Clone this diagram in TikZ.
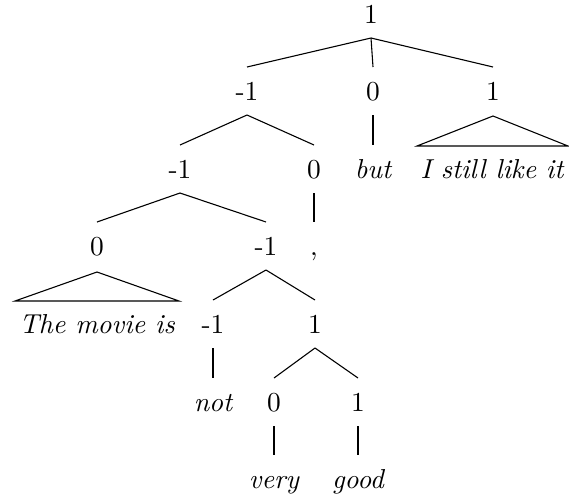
\documentclass[tikz,border=0pt]{standalone}
\usetikzlibrary{calc}
\begin{document}
\begin{tikzpicture}[x=0.365pt,y=-0.365pt,
  lbl/.style={inner sep=0pt,anchor=base},
  wd/.style={inner sep=0pt,anchor=base,font=\itshape},
  edge/.style={line width=0.4pt}]
\useasboundingbox (0,0) rectangle (569,494);
% level 0
\node[lbl] (r) at (371,23) {1};
% level 1
\node[lbl] (a) at (247,100) {-1};
\node[lbl] (b) at (373,100) {0};
\node[lbl] (c) at (493,100) {1};
% level 2
\node[lbl] (aa) at (180,178) {-1};
\node[lbl] (ab) at (314,178) {0};
\node[wd] (bw) at (373,178) {but};
\node[wd] (cw) at (492,178) {I still like it};
% level 3
\node[lbl] (aaa) at (97,255) {0};
\node[lbl] (aab) at (266,255) {-1};
\node[lbl] (abw) at (314,255) {,};
% level 4
\node[wd] (aaaw) at (97,333) {The movie is};
\node[lbl] (aaba) at (213,333) {-1};
\node[lbl] (aabb) at (315,333) {1};
% level 5
\node[wd] (aabaw) at (213,411) {not};
\node[lbl] (aabba) at (274,411) {0};
\node[lbl] (aabbb) at (358,411) {1};
% level 6
\node[wd] (aabbaw) at (274,488) {very};
\node[wd] (aabbbw) at (358,488) {good};

% edges
\foreach \p/\c in {r/a, r/b, r/c, a/aa, a/ab, b/bw, aa/aaa, aa/aab, ab/abw,
                   aab/aaba, aab/aabb, aaba/aabaw, aabb/aabba, aabb/aabbb,
                   aabba/aabbaw, aabbb/aabbbw}
  \draw[edge] ($(\p.base)+(0,15)$) -- ($(\c.base)+(0,-33)$);

% triangles
\coordinate (cl) at (417,146);
\coordinate (cr) at (568,146);
\draw[edge] ($(c.base)+(0,16)$) -- (cl) -- (cr) -- cycle;
\coordinate (aaal) at (15,301);
\coordinate (aaar) at (179,301);
\draw[edge] ($(aaa.base)+(0,17)$) -- (aaal) -- (aaar) -- cycle;
\end{tikzpicture}
\end{document}
